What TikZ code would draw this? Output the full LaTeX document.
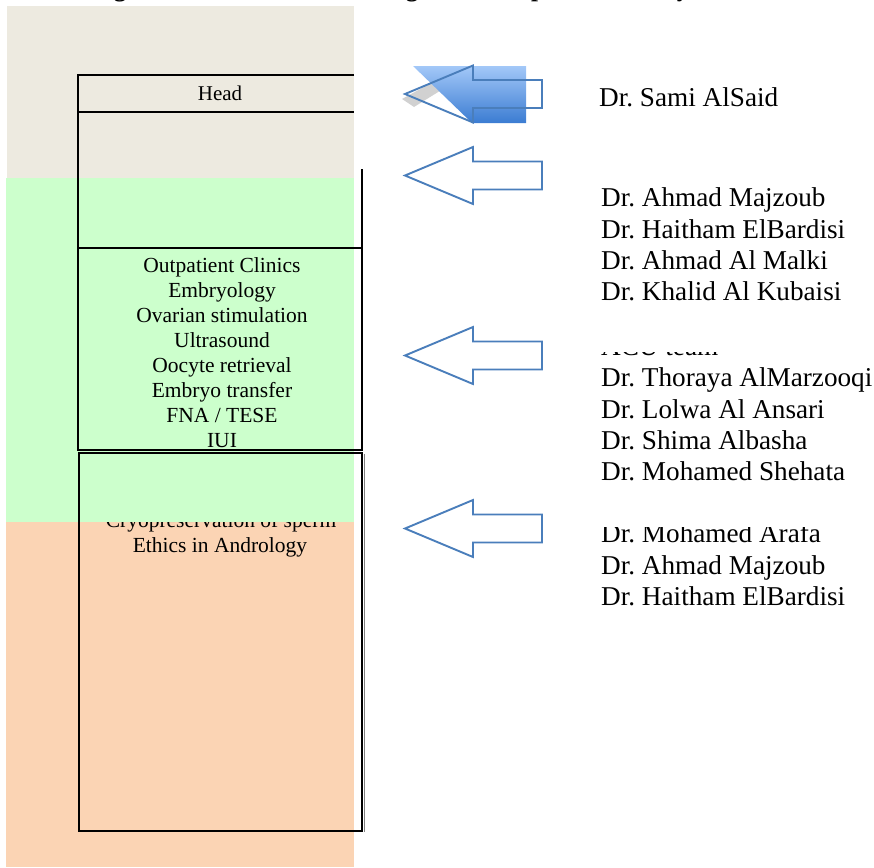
\documentclass[tikz,border=0pt]{standalone}
\usepackage{fontspec}
\setmainfont{Liberation Serif}
\definecolor{bandbeige}{HTML}{EDEAE0}
\definecolor{bandgreen}{HTML}{CCFFCC}
\definecolor{bandorange}{HTML}{FBD4B4}
\definecolor{arrowblue}{HTML}{4A7EBB}
\definecolor{bluetop}{HTML}{A3C8F8}
\definecolor{bluebot}{HTML}{3B7CD2}
\frenchspacing
\begin{document}
\begin{tikzpicture}[x=1pt,y=-1pt,
  namestyle/.style={anchor=base west, inner sep=0pt, font=\fontsize{27.2}{30}\selectfont},
  liststyle/.style={anchor=base, inner sep=0pt, font=\fontsize{21.5}{25}\selectfont},
  titlestyle/.style={anchor=base, inner sep=0pt, font=\bfseries\fontsize{25}{25}\selectfont},
  frameline/.style={line width=2pt, black},
  blockarrow/.style={draw=arrowblue, line width=1.9pt, line join=miter},
  larrow/.pic={\draw[blockarrow] (0,0) -- (68,-28.5) -- (68,-14) -- (137,-14) -- (137,14) -- (68,14) -- (68,28.5) -- cycle;}]
\useasboundingbox (0,0) rectangle (874,867);
% title fragments (cut off at the top)
\node[titlestyle] (t1) at (120,-3.5) {g};
\node[titlestyle] (t2) at (412,-3.5) {g};
\node[titlestyle] (t3) at (538,-3.5) {p};
\node[titlestyle] (t4) at (683,-3.5) {y};
% bands
\fill[bandbeige] (7,6) rectangle (354,178);
\fill[bandorange] (6,522) rectangle (354,867);
\node[liststyle] (cryo) at (221,527.7) {Cryopreservation of sperm};
\fill[bandgreen] (6,178) rectangle (354,522);
% frames
\draw[frameline] (354,75) -- (78,75) -- (78,248);
\draw[frameline] (78,112) -- (354,112);
\draw[frameline] (362,169) -- (362,248);
\draw[frameline] (78,248) rectangle (362,450);
\draw[line width=1.2pt, gray] (364.5,454) -- (364.5,832);
\draw[frameline] (79,453) rectangle (362,831);
% box texts
\node[liststyle, font=\fontsize{21}{25}\selectfont] (head) at (220,100) {Head};
\node[liststyle] (l1) at (222,272.7) {Outpatient Clinics};
\node[liststyle] (l2) at (222,297.7) {Embryology};
\node[liststyle] (l3) at (222,322.7) {Ovarian stimulation};
\node[liststyle] (l4) at (222,347.7) {Ultrasound};
\node[liststyle] (l5) at (222,372.7) {Oocyte retrieval};
\node[liststyle] (l6) at (222,397.7) {Embryo transfer};
\node[liststyle] (l7) at (222,422.7) {FNA / TESE};
\begin{scope}
\clip (80,430) rectangle (360,449);
\node[liststyle] (l8) at (222,447.7) {IUI};
\end{scope}
\node[liststyle] (ethics) at (220,552.7) {Ethics in Andrology};
% head arrow decoration
\fill[gray!45, opacity=0.8] (402,99) -- (433,82) -- (443,89) -- (414,107) -- cycle;
\shade[top color=bluetop, bottom color=bluebot] (413,66) -- (526,66) -- (526,123) -- (472,123) -- cycle;
% arrows
\pic (a1) at (405,94) {larrow};
\pic (a2) at (405,175.5) {larrow};
\pic (a3) at (405,355.5) {larrow};
\pic (a4) at (405,528.5) {larrow};
% names
\node[namestyle] (n0) at (599,106) {Dr. Sami AlSaid};
\node[namestyle] (n1) at (601,206.7) {Dr. Ahmad Majzoub};
\node[namestyle] (n2) at (601,238) {Dr. Haitham ElBardisi};
\node[namestyle] (n3) at (601,269.3) {Dr. Ahmad Al Malki};
\node[namestyle] (n4) at (601,300.6) {Dr. Khalid Al Kubaisi};
\begin{scope}
\clip (590,352) rectangle (874,370);
\node[namestyle] (acu) at (601,355.4) {ACU team};
\end{scope}
\node[namestyle] (n5) at (601,386.7) {Dr. Thoraya AlMarzooqi};
\node[namestyle] (n6) at (601,418) {Dr. Lolwa Al Ansari};
\node[namestyle] (n7) at (601,449.3) {Dr. Shima Albasha};
\node[namestyle] (n8) at (601,480.6) {Dr. Mohamed Shehata};
\begin{scope}
\clip (590,527) rectangle (874,560);
\node[namestyle] (n9) at (601,542.7) {Dr. Mohamed Arafa};
\end{scope}
\node[namestyle] (n10) at (601,574) {Dr. Ahmad Majzoub};
\node[namestyle] (n11) at (601,605.3) {Dr. Haitham ElBardisi};
\end{tikzpicture}
\end{document}
